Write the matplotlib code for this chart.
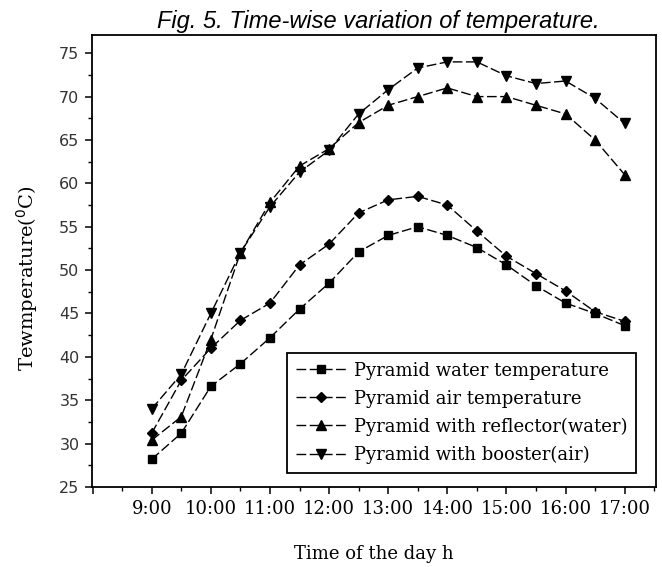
import matplotlib
matplotlib.use("Agg")
import matplotlib.pyplot as plt
from matplotlib.ticker import MultipleLocator, FixedLocator
import numpy as np

# time of day in hours (half-hour steps)
hours = [9.0, 9.5, 10.0, 10.5, 11.0, 11.5, 12.0, 12.5, 13.0, 13.5, 14.0,
         14.5, 15.0, 15.5, 16.0, 16.5, 17.0]

water_temp = [28.2, 31.2, 36.6, 39.2, 42.2, 45.5, 48.5, 52.1, 54.0, 55.0, 54.0,
              52.6, 50.6, 48.2, 46.2, 45.0, 43.6]
air_temp = [31.2, 37.3, 41.0, 44.2, 46.2, 50.6, 53.0, 56.6, 58.1, 58.5, 57.5,
            54.5, 51.6, 49.6, 47.6, 45.2, 44.1]
reflector_water = [30.4, 33.1, 42.0, 52.0, 57.8, 62.0, 64.0, 67.0, 69.0, 70.0, 71.0,
                   70.0, 70.0, 69.0, 68.0, 65.0, 61.0]
booster_air = [34.0, 38.0, 45.0, 52.0, 57.3, 61.3, 63.8, 68.0, 70.8, 73.3, 74.0,
               74.0, 72.4, 71.5, 71.8, 69.8, 66.9]

series_labels = ["Pyramid water temperature",
                 "Pyramid air temperature",
                 "Pyramid with reflector(water)",
                 "Pyramid with booster(air)"]

x_tick_pos = [8, 9, 10, 11, 12, 13, 14, 15, 16, 17]
x_tick_labels = ["", "9:00", "10:00", "11:00", "12:00", "13:00", "14:00",
                 "15:00", "16:00", "17:00"]
y_ticks = [25, 30, 35, 40, 45, 50, 55, 60, 65, 70, 75]

fig = plt.figure(figsize=(6.62, 5.67), dpi=100)
ax = fig.add_axes([92/662, 1 - 487/567, (656-92)/662, (487-35)/567])

serif = ["DejaVu Serif"]
ls = (0, (7, 2.5))
styles = [("s", 6), ("D", 5), ("^", 7.5), ("v", 7.5)]
for data, lab, (mk, ms) in zip([water_temp, air_temp, reflector_water, booster_air],
                               series_labels, styles):
    ax.plot(hours, data, color="black", lw=1.0, linestyle=ls, marker=mk,
            markersize=ms, markerfacecolor="black", markeredgecolor="black",
            label=lab)

ax.set_xlim(7.99, 17.53)
ax.set_ylim(25, 77.1)

ax.xaxis.set_major_locator(FixedLocator(x_tick_pos))
ax.set_xticklabels(x_tick_labels, fontfamily=serif, fontsize=13)
ax.xaxis.set_minor_locator(MultipleLocator(0.5))
ax.set_yticks(y_ticks)
ax.set_yticklabels([str(v) for v in y_ticks], fontfamily="DejaVu Sans", fontsize=11.5,
                   color="#333333")
ax.yaxis.set_minor_locator(MultipleLocator(2.5))

ax.tick_params(which="major", direction="out", length=5, width=1.1, pad=4)
ax.tick_params(which="minor", direction="out", length=3, width=1.0)
for sp in ax.spines.values():
    sp.set_linewidth(1.3)
    sp.set_color("black")

ax.set_xlabel("Time of the day h", fontfamily=serif, fontsize=13, labelpad=20)
ax.set_ylabel("Tewmperature($^{0}$C)", fontfamily=serif, fontsize=14)
ax.yaxis.set_label_coords(-0.092, 0.462)

leg = ax.legend(loc="lower right", bbox_to_anchor=(0.965, 0.031), frameon=True,
                fancybox=False, edgecolor="black", framealpha=1,
                prop={"family": serif, "size": 13}, handlelength=2.8,
                handletextpad=0.4, borderpad=0.5, labelspacing=0.55,
                borderaxespad=0)
leg.get_frame().set_linewidth(1.3)

fig.text(0.572, 1 - 28/567, "Fig. 5. Time-wise variation of temperature.",
         ha="center", va="baseline", style="italic", fontsize=17,
         fontfamily=["Liberation Sans Narrow", "Liberation Sans", "DejaVu Sans"])

fig.savefig("out.png", dpi=100)
